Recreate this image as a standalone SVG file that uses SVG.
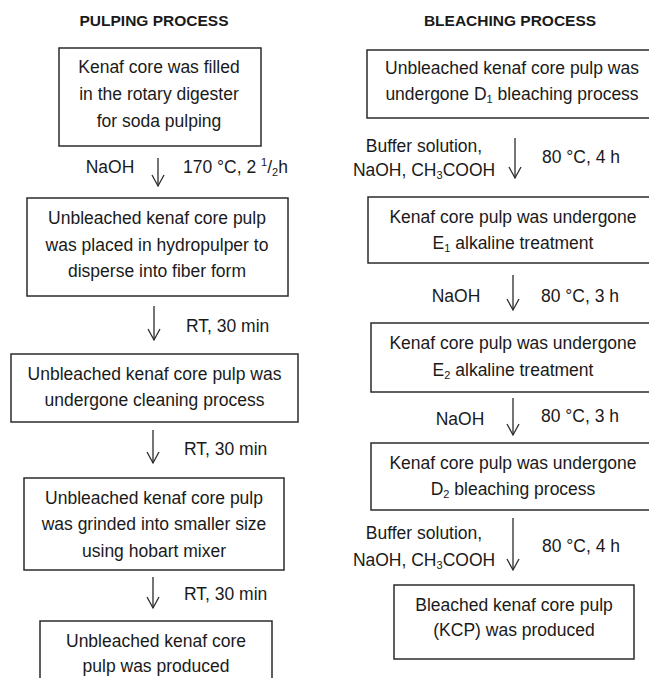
<svg xmlns="http://www.w3.org/2000/svg" width="649" height="678" viewBox="0 0 649 678">
<style>
.bg{fill:#fff}
.box{fill:#fff;stroke:#2b2b2b;stroke-width:1.5}
text{font-family:"Liberation Sans",Arial,sans-serif;font-size:17.5px;fill:#1a1a1a}
.t{text-anchor:middle}
.title{font-weight:bold;font-size:15.5px;text-anchor:middle}
.sub{font-size:11px}
.arr{fill:none;stroke:#2b2b2b;stroke-width:1.3}
</style>
<defs>
<marker id="ah" markerWidth="14" markerHeight="14" refX="12.5" refY="7" orient="auto" markerUnits="userSpaceOnUse" viewBox="0 0 14 14">
<path d="M1.5,1 L12.5,7 L1.5,13" fill="none" stroke="#2b2b2b" stroke-width="1.3"/>
</marker>
</defs>
<rect class="bg" x="0" y="0" width="649" height="678"/>
<text class="title" x="154" y="26">PULPING PROCESS</text>
<text class="title" x="510" y="26">BLEACHING PROCESS</text>

<g id="p1"><rect class="box" x="59" y="48" width="202" height="98"/>
<text class="t" x="159" y="73">Kenaf core was filled</text>
<text class="t" x="159" y="100">in the rotary digester</text>
<text class="t" x="159" y="127">for soda pulping</text></g>

<g id="p2"><rect class="box" x="27" y="198" width="261" height="98"/>
<text class="t" x="157" y="224">Unbleached kenaf core pulp</text>
<text class="t" x="157" y="250.5">was placed in hydropulper to</text>
<text class="t" x="157" y="277">disperse into fiber form</text></g>

<g id="p3"><rect class="box" x="11" y="354" width="287" height="68"/>
<text class="t" x="154.5" y="379.5">Unbleached kenaf core pulp was</text>
<text class="t" x="154.5" y="405.5">undergone cleaning process</text></g>

<g id="p4"><rect class="box" x="24" y="478" width="260" height="92"/>
<text class="t" x="154" y="503.5">Unbleached kenaf core pulp</text>
<text class="t" x="154" y="530">was grinded into smaller size</text>
<text class="t" x="154" y="556.5">using hobart mixer</text></g>

<g id="p5"><rect class="box" x="40" y="621" width="232" height="70"/>
<text class="t" x="156" y="646.5">Unbleached kenaf core</text>
<text class="t" x="156" y="671.5">pulp was produced</text></g>

<g id="b1"><rect class="box" x="367" y="50" width="290" height="68"/>
<text class="t" x="512" y="74">Unbleached kenaf core pulp was</text>
<text class="t" x="512" y="100">undergone D<tspan class="sub" dy="3">1</tspan><tspan dy="-3"> bleaching process</tspan></text></g>

<g id="b2"><rect class="box" x="368" y="197" width="290" height="66"/>
<text class="t" x="513" y="222.5">Kenaf core pulp was undergone</text>
<text class="t" x="513" y="248.5">E<tspan class="sub" dy="3">1</tspan><tspan dy="-3"> alkaline treatment</tspan></text></g>

<g id="b3"><rect class="box" x="371" y="323" width="290" height="69"/>
<text class="t" x="513" y="349">Kenaf core pulp was undergone</text>
<text class="t" x="513" y="375.5">E<tspan class="sub" dy="3">2</tspan><tspan dy="-3"> alkaline treatment</tspan></text></g>

<g id="b4"><rect class="box" x="371" y="443" width="290" height="67"/>
<text class="t" x="513" y="469">Kenaf core pulp was undergone</text>
<text class="t" x="513" y="495">D<tspan class="sub" dy="3">2</tspan><tspan dy="-3"> bleaching process</tspan></text></g>

<g id="b5"><rect class="box" x="394" y="585" width="240" height="74"/>
<text class="t" x="514" y="610.5">Bleached kenaf core pulp</text>
<text class="t" x="514" y="636">(KCP) was produced</text></g>

<g id="connectors">
<line class="arr" x1="158" y1="158" x2="158" y2="186" marker-end="url(#ah)"/>
<line class="arr" x1="154" y1="306" x2="154" y2="340" marker-end="url(#ah)"/>
<line class="arr" x1="153" y1="430" x2="153" y2="463" marker-end="url(#ah)"/>
<line class="arr" x1="153" y1="577" x2="153" y2="608" marker-end="url(#ah)"/>
<line class="arr" x1="515" y1="138" x2="515" y2="178" marker-end="url(#ah)"/>
<line class="arr" x1="513" y1="275" x2="513" y2="310" marker-end="url(#ah)"/>
<line class="arr" x1="513" y1="398" x2="513" y2="435" marker-end="url(#ah)"/>
<line class="arr" x1="513" y1="518" x2="513" y2="570" marker-end="url(#ah)"/>
</g>

<g id="labels">
<text class="t" x="110" y="173">NaOH</text>
<text x="183" y="173">170 °C, 2 <tspan class="sub" dy="-7">1</tspan><tspan dy="7">/</tspan><tspan class="sub" dy="3">2</tspan><tspan dy="-3">h</tspan></text>
<text x="186" y="332">RT, 30 min</text>
<text x="184" y="455">RT, 30 min</text>
<text x="184" y="600">RT, 30 min</text>

<text class="t" x="424" y="152">Buffer solution,</text>
<text class="t" x="424" y="176">NaOH, CH<tspan class="sub" dy="3">3</tspan><tspan dy="-3">COOH</tspan></text>
<text x="542" y="163">80 °C, 4 h</text>

<text class="t" x="456" y="302">NaOH</text>
<text x="541" y="302">80 °C, 3 h</text>

<text class="t" x="460" y="425">NaOH</text>
<text x="541" y="422">80 °C, 3 h</text>

<text class="t" x="424" y="539">Buffer solution,</text>
<text class="t" x="424" y="566">NaOH, CH<tspan class="sub" dy="3">3</tspan><tspan dy="-3">COOH</tspan></text>
<text x="542" y="552">80 °C, 4 h</text>
</g>
</svg>
